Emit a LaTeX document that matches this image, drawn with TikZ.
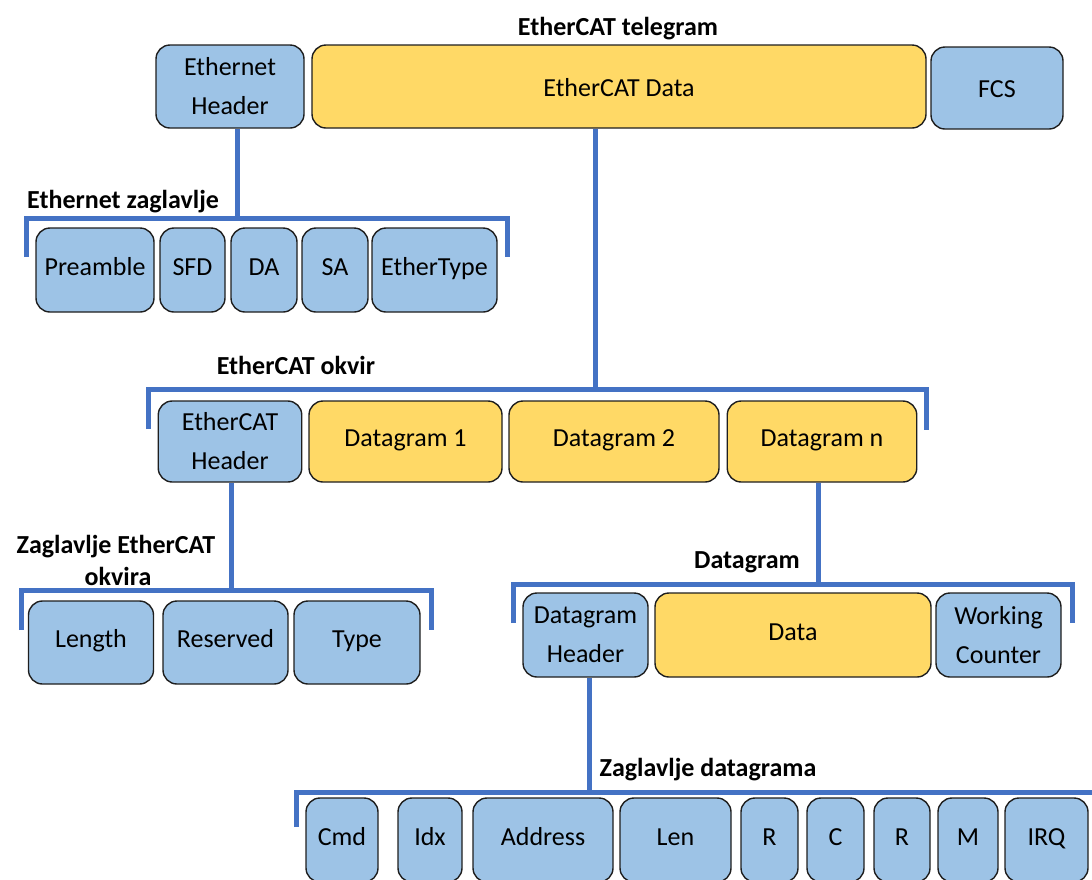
\documentclass[tikz,border=0pt]{standalone}
\usepackage{fontspec}
\setmainfont{Carlito}
\usetikzlibrary{calc}
\definecolor{boxblue}{HTML}{9DC3E6}
\definecolor{boxyellow}{HTML}{FFD966}
\definecolor{brkblue}{HTML}{4472C4}
\definecolor{edgegray}{HTML}{1E1E1E}
\begin{document}
\begin{tikzpicture}[x=1pt,y=-1pt,
  cell/.style={draw=edgegray, line width=1.4pt, rounded corners=14pt, inner sep=0pt, align=center, font=\fontsize{26}{39}\selectfont},
  bcell/.style={cell, fill=boxblue},
  ycell/.style={cell, fill=boxyellow},
  one/.style={text height=16pt, text depth=6pt},
  onelow/.style={text height=19pt, text depth=0pt},
  brk/.style={draw=brkblue, line width=5pt, line join=miter},
  lbl/.style={font=\fontsize{26}{33}\selectfont\bfseries, inner sep=0pt, anchor=base}
]
\useasboundingbox (0,0) rectangle (1092,879);
\clip (0,0) rectangle (1092,879);

% top row
\node[bcell, minimum width=148pt, minimum height=83pt] (eh) at (230,86.5) {Ethernet\\Header};
\node[ycell, onelow, minimum width=614pt, minimum height=83pt] (ed) at (619,86.5) {EtherCAT Data};
\node[bcell, onelow, minimum width=132pt, minimum height=82pt] (fcs) at (997,88) {FCS};

% ethernet header fields
\node[bcell, one, minimum width=118pt, minimum height=84pt] (pre) at (95,270) {Preamble};
\node[bcell, one, minimum width=65pt, minimum height=84pt] (sfd) at (192.5,270) {SFD};
\node[bcell, one, minimum width=66pt, minimum height=84pt] (da) at (264,270) {DA};
\node[bcell, one, minimum width=66pt, minimum height=84pt] (sa) at (335,270) {SA};
\node[bcell, one, minimum width=125pt, minimum height=84pt] (et) at (434.5,270) {EtherType};

% ethercat frame
\node[bcell, minimum width=143.5pt, minimum height=81pt] (ech) at (230,441.5) {EtherCAT\\Header};
\node[ycell, one, minimum width=193pt, minimum height=81pt] (d1) at (405.5,441.5) {Datagram 1};
\node[ycell, one, minimum width=210pt, minimum height=81pt] (d2) at (614,441.5) {Datagram 2};
\node[ycell, one, minimum width=189.5pt, minimum height=81pt] (dn) at (822,441.5) {Datagram n};

% ethercat header fields
\node[bcell, one, minimum width=125pt, minimum height=83pt] (len) at (91,642.5) {Length};
\node[bcell, one, minimum width=125pt, minimum height=83pt] (res) at (225.5,642.5) {Reserved};
\node[bcell, one, minimum width=126pt, minimum height=83pt] (typ) at (357,642.5) {Type};

% datagram
\node[bcell, minimum width=125pt, minimum height=84pt] (dh) at (585.5,635) {Datagram\\Header};
\node[ycell, one, minimum width=276pt, minimum height=84pt] (dat) at (793,635) {Data};
\node[bcell, minimum width=125pt, minimum height=84pt] (wc) at (998.5,635) {Working\\Counter};

% datagram header fields
\node[bcell, one, minimum width=72pt, minimum height=84pt] (cmd) at (342,840) {Cmd};
\node[bcell, one, minimum width=64pt, minimum height=84pt] (idx) at (430,840) {Idx};
\node[bcell, one, minimum width=140pt, minimum height=84pt] (adr) at (543,840) {Address};
\node[bcell, one, minimum width=111pt, minimum height=84pt] (ln) at (675.5,840) {Len};
\node[bcell, one, minimum width=57pt, minimum height=84pt] (r1) at (769.5,840) {R};
\node[bcell, one, minimum width=57pt, minimum height=84pt] (cc) at (835.5,840) {C};
\node[bcell, one, minimum width=56pt, minimum height=84pt] (r2) at (902,840) {R};
\node[bcell, one, minimum width=60pt, minimum height=84pt] (mm) at (968,840) {M};
\node[bcell, one, minimum width=83pt, minimum height=84pt] (irq) at (1046.5,840) {IRQ};

% bracket coordinates
\coordinate (b1l) at (26,218);   \coordinate (b1r) at (507,218);
\coordinate (b2l) at (148,389);  \coordinate (b2r) at (926,389);
\coordinate (b3l) at (21,590);   \coordinate (b3r) at (431,590);
\coordinate (b4l) at (513,584);  \coordinate (b4r) at (1072,584);
\coordinate (b5l) at (296,792);  \coordinate (b5r) at (1110,792);
\coordinate (t1) at (237,0);
\coordinate (t2) at (595,0);
\coordinate (t3) at (231,0);
\coordinate (t4) at (818,0);
\coordinate (t5) at (589,0);

% brackets
\draw[brk] (b1l) ++(0,39) -- (b1l) -- (b1r) -- ++(0,39);
\draw[brk] (b2l) ++(0,40) -- (b2l) -- (b2r) -- ++(0,41);
\draw[brk] (b3l) ++(0,40) -- (b3l) -- (b3r) -- ++(0,40);
\draw[brk] (b4l) ++(0,39) -- (b4l) -- (b4r) -- ++(0,39);
\draw[brk] (b5l) ++(0,35) -- (b5l) -- (b5r);

% connectors
\draw[brk] (eh.south -| t1) -- (t1 |- b1l);
\draw[brk] (ed.south -| t2) -- (t2 |- b2l);
\draw[brk] (ech.south -| t3) -- (t3 |- b3l);
\draw[brk] (dn.south -| t4) -- (t4 |- b4l);
\draw[brk] (dh.south -| t5) -- (t5 |- b5l);

% labels
\node[lbl] (tel) at (618,35) {EtherCAT telegram};
\node[lbl, anchor=base west] (ezl) at (27,208) {Ethernet zaglavlje};
\node[lbl] (eok) at (296,374) {EtherCAT okvir};
\node[lbl] (zeo1) at (116,553) {Zaglavlje EtherCAT};
\node[lbl] (zeo2) at (118,585) {okvira};
\node[lbl] (dgl) at (747,568) {Datagram};
\node[lbl] (zdl) at (708,776) {Zaglavlje datagrama};
\end{tikzpicture}
\end{document}
